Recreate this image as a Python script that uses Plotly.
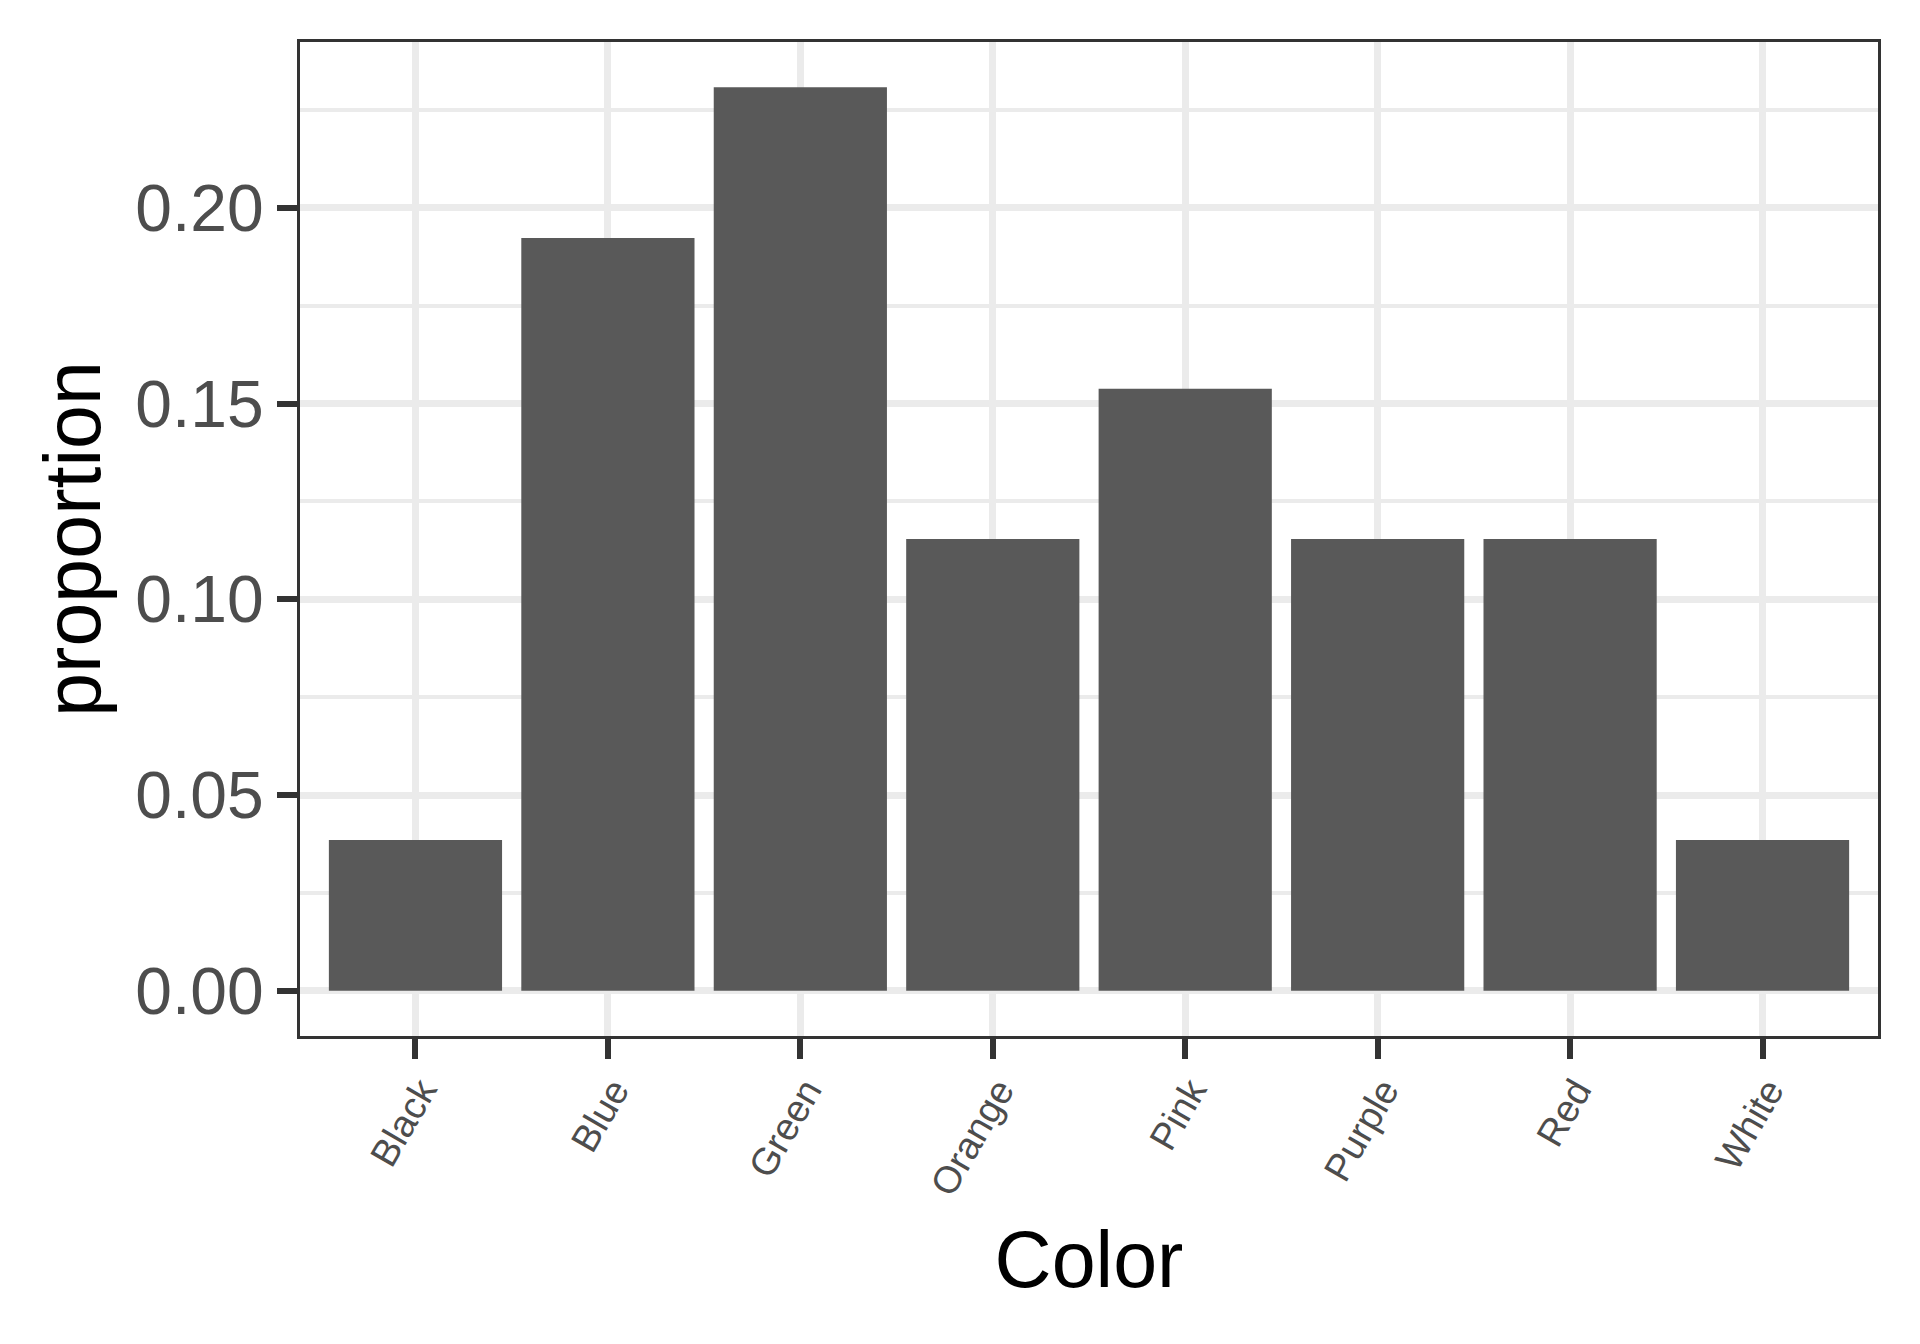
import plotly.graph_objects as go

colors = ["Black", "Blue", "Green", "Orange", "Pink", "Purple", "Red", "White"]
proportion = [0.0385, 0.1923, 0.2308, 0.1154, 0.1538, 0.1154, 0.1154, 0.0385]
y_ticks = [0.00, 0.05, 0.10, 0.15, 0.20]
y_tick_text = ["0.00", "0.05", "0.10", "0.15", "0.20"]

FONT = "Liberation Sans, Arial, sans-serif"

fig = go.Figure(
    go.Bar(
        x=colors,
        y=proportion,
        width=0.9,
        marker=dict(color="#595959", line=dict(width=0)),
        showlegend=False,
    )
)

ymax = max(proportion)
pad = ymax * 0.05

fig.update_layout(
    width=1920,
    height=1344,
    paper_bgcolor="white",
    plot_bgcolor="white",
    margin=dict(l=292, r=50, t=34, b=316),
    font=dict(family=FONT),
    xaxis=dict(
        type="category",
        range=[-0.6, len(colors) - 0.4],
        showgrid=True,
        gridcolor="#EBEBEB",
        gridwidth=7,
        zeroline=False,
        showline=True,
        mirror=True,
        linecolor="#333333",
        linewidth=3,
        ticks="outside",
        ticklen=20,
        tickwidth=6,
        tickcolor="#333333",
        tickangle=-60,
        ticklabelshift=6,
        ticklabelstandoff=-6,
        tickfont=dict(size=38, color="#4D4D4D", family=FONT),
        title=dict(text="Color", font=dict(size=79, color="black", family=FONT), standoff=30),
        automargin=False,
    ),
    yaxis=dict(
        range=[-pad, ymax + pad],
        tickmode="array",
        tickvals=y_ticks,
        ticktext=y_tick_text,
        showgrid=True,
        gridcolor="#EBEBEB",
        gridwidth=7,
        zeroline=False,
        showline=True,
        mirror=True,
        linecolor="#333333",
        linewidth=3,
        ticks="outside",
        ticklen=20,
        tickwidth=6,
        tickcolor="#333333",
        tickfont=dict(size=66, color="#4D4D4D", family=FONT),
        title=dict(text="proportion", font=dict(size=79, color="black", family=FONT), standoff=9),
        minor=dict(
            tickmode="linear",
            tick0=0.025,
            dtick=0.05,
            showgrid=True,
            gridcolor="#EBEBEB",
            gridwidth=3.5,
            ticks="",
        ),
        automargin=False,
    ),
)

fig.write_html("out.html")
